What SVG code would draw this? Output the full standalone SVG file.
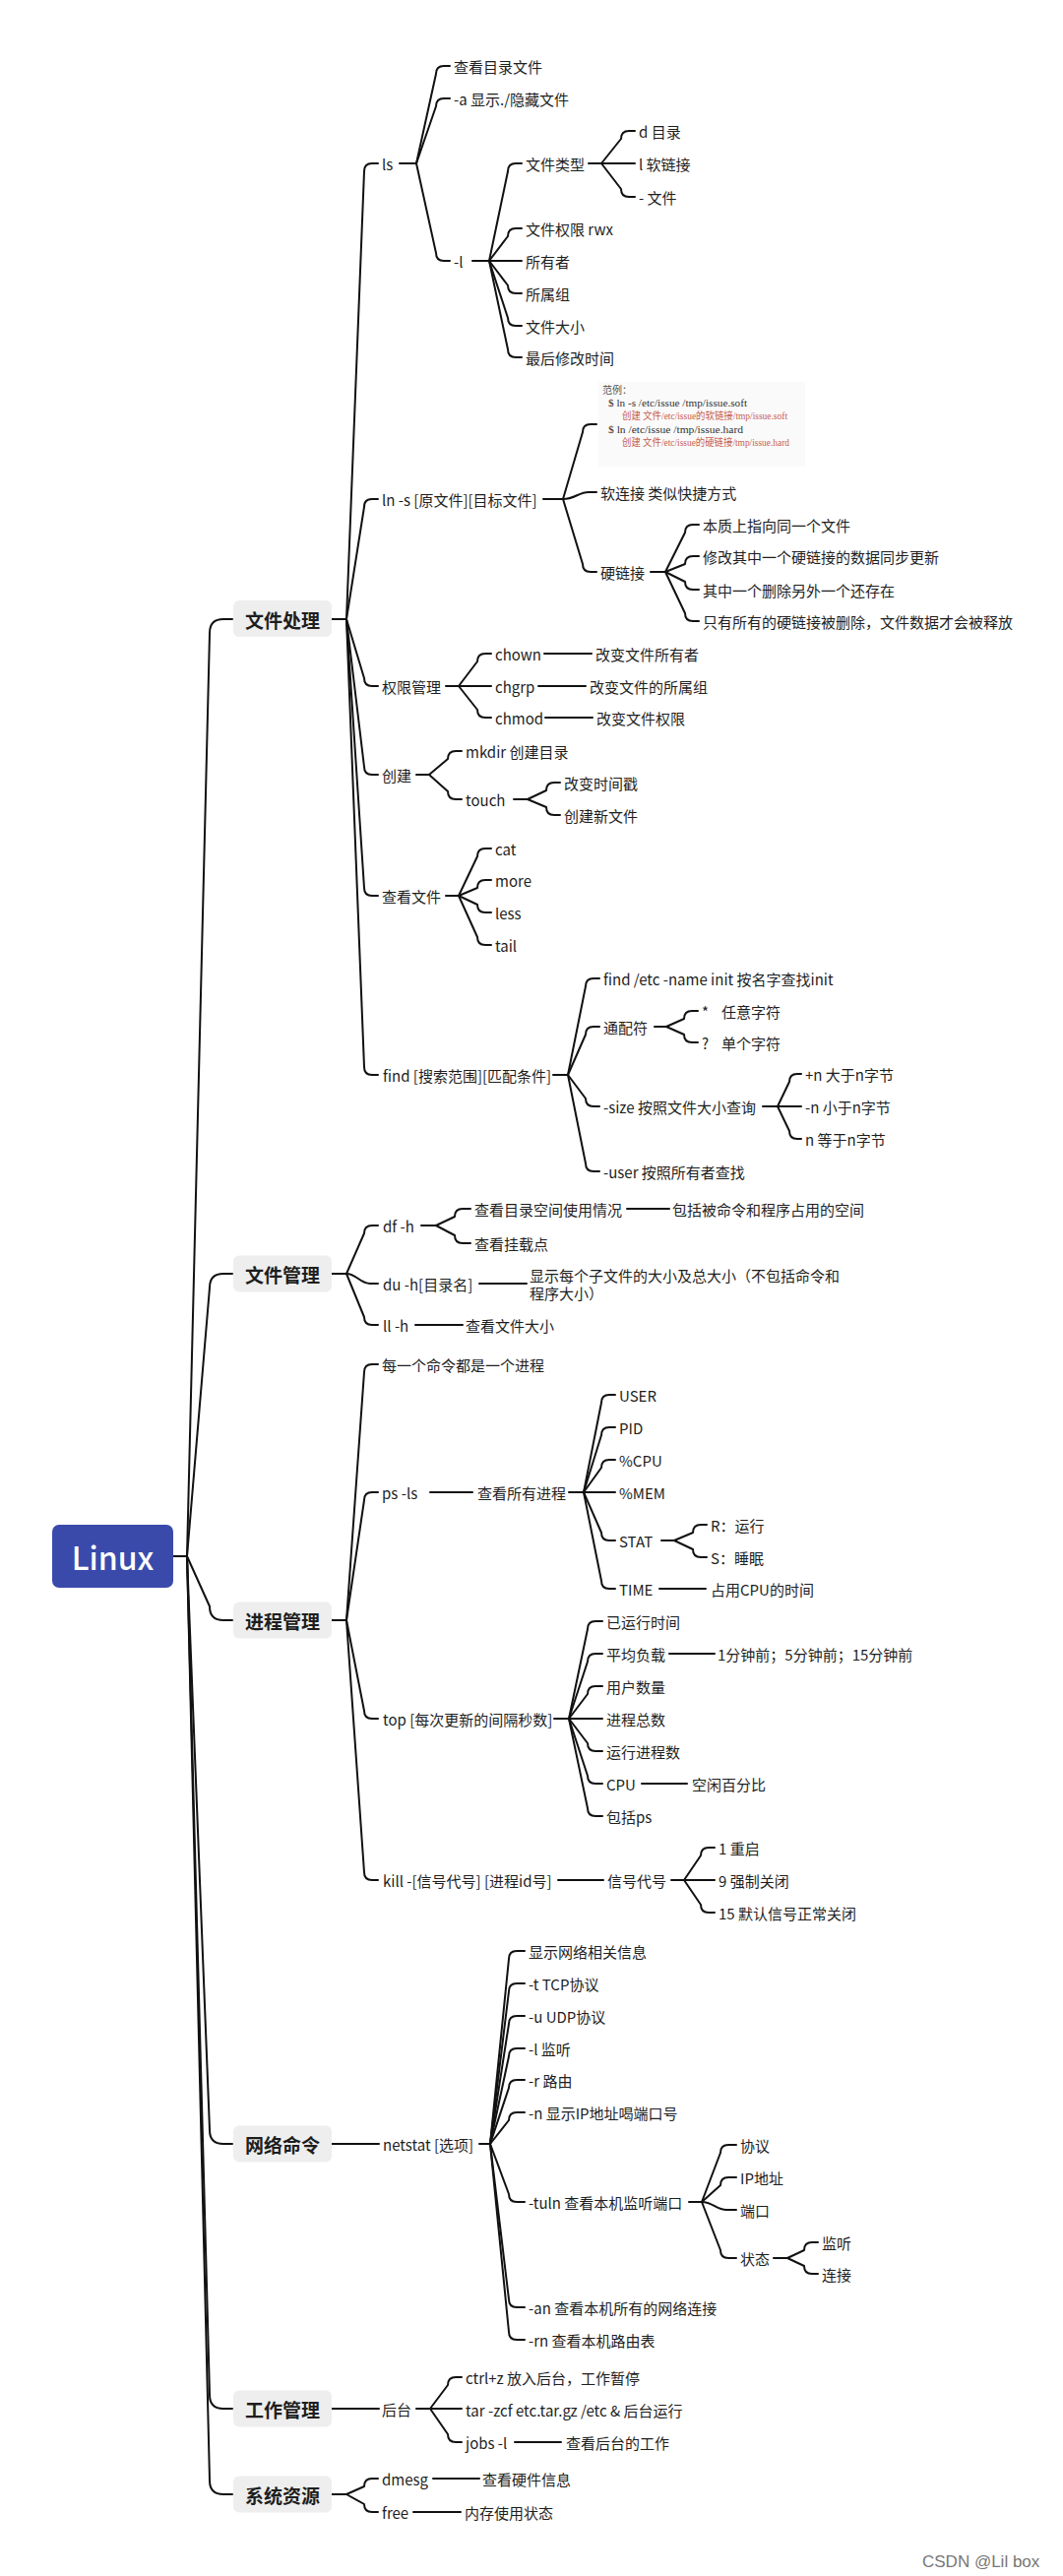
<svg xmlns="http://www.w3.org/2000/svg" width="1080" height="2617" viewBox="0 0 1080 2617">
<style>
.t{font-family:"Noto Sans CJK SC","Noto Sans",sans-serif;font-size:15px;fill:#1e1e1e;dominant-baseline:central}
.h{font-family:"Noto Sans CJK SC",sans-serif;font-size:19px;font-weight:bold;fill:#1e1e1e;dominant-baseline:central;text-anchor:middle}
.box{fill:#eeeeee}
.c path{fill:none;stroke:#111;stroke-width:2;stroke-linecap:round;stroke-linejoin:round}
.ex{font-family:"Liberation Serif","Noto Sans CJK SC",serif;font-size:10px;dominant-baseline:central}
</style>
<rect width="1080" height="2617" fill="#ffffff"/>
<g id="connectors" class="c">
<path d="M176,1581 H190"/>
<path d="M190,1581 L213,643 Q213,629 227,629 H236"/>
<path d="M190,1581 L213,1308 Q213,1294 227,1294 H236"/>
<path d="M190,1581 L213,1632 Q213,1646 227,1646 H236"/>
<path d="M190,1581 L213,2164 Q213,2178 227,2178 H236"/>
<path d="M190,1581 L213,2433 Q213,2447 227,2447 H236"/>
<path d="M190,1581 L213,2520 Q213,2534 227,2534 H236"/>
<path d="M337,629 H352"/>
<path d="M352,629 L370,174 Q370,166 378,166 H384"/>
<path d="M352,629 L370,515 Q370,507 378,507 H384"/>
<path d="M352,629 L370,689 Q370,697 378,697 H384"/>
<path d="M352,629 L370,779 Q370,787 378,787 H384"/>
<path d="M352,629 L370,902 Q370,910 378,910 H384"/>
<path d="M352,629 L370,1084 Q370,1092 378,1092 H384"/>
<path d="M406,166 H423"/>
<path d="M423,166 L443,75 Q443,67 451,67 H457"/>
<path d="M423,166 L443,108 Q443,100 451,100 H457"/>
<path d="M423,166 L443,257 Q443,265 451,265 H457"/>
<path d="M480,265 H497"/>
<path d="M497,265 L516,174 Q516,166 524,166 H530"/>
<path d="M497,265 L516,240 Q516,232 524,232 H530"/>
<path d="M497,265 H530"/>
<path d="M497,265 L516,290 Q516,298 524,298 H530"/>
<path d="M497,265 L516,323 Q516,331 524,331 H530"/>
<path d="M497,265 L516,355 Q516,363 524,363 H530"/>
<path d="M598,166 H611"/>
<path d="M611,166 L631,141 Q631,133 639,133 H645"/>
<path d="M611,166 H645"/>
<path d="M611,166 L631,192 Q631,200 639,200 H645"/>
<path d="M552,507 H572"/>
<path d="M572,507 L592,439 Q592,431 600,431 H606"/>
<path d="M572,507 C584,507 588,500 598,500 H606"/>
<path d="M572,507 L592,573 Q592,581 600,581 H606"/>
<path d="M661,581 H676"/>
<path d="M676,581 L696,541 Q696,533 704,533 H710"/>
<path d="M676,581 L696,573 Q696,565 704,565 H710"/>
<path d="M676,581 L696,591 Q696,599 704,599 H710"/>
<path d="M676,581 L696,623 Q696,631 704,631 H710"/>
<path d="M453,697 H466"/>
<path d="M466,697 L485,672 Q485,664 493,664 H499"/>
<path d="M466,697 H499"/>
<path d="M466,697 L485,721 Q485,729 493,729 H499"/>
<path d="M553,664 H601"/>
<path d="M547,697 H595"/>
<path d="M554,729 H602"/>
<path d="M423,787 H436"/>
<path d="M436,787 L455,771 Q455,763 463,763 H469"/>
<path d="M436,787 L455,804 Q455,812 463,812 H469"/>
<path d="M522,812 H536"/>
<path d="M536,812 L555,803 Q555,795 563,795 H569"/>
<path d="M536,812 L555,820 Q555,828 563,828 H569"/>
<path d="M453,910 H466"/>
<path d="M466,910 L485,870 Q485,862 493,862 H499"/>
<path d="M466,910 L485,902 Q485,894 493,894 H499"/>
<path d="M466,910 L485,919 Q485,927 493,927 H499"/>
<path d="M466,910 L485,952 Q485,960 493,960 H499"/>
<path d="M562,1092 H577"/>
<path d="M577,1092 L595,1002 Q595,994 603,994 H609"/>
<path d="M577,1092 L595,1051 Q595,1043 603,1043 H609"/>
<path d="M577,1092 L595,1116 Q595,1124 603,1124 H609"/>
<path d="M577,1092 L595,1182 Q595,1190 603,1190 H609"/>
<path d="M665,1043 H677"/>
<path d="M677,1043 L695,1035 Q695,1027 703,1027 H709"/>
<path d="M677,1043 L695,1051 Q695,1059 703,1059 H709"/>
<path d="M775,1124 H790"/>
<path d="M790,1124 L802,1099 Q802,1091 810,1091 H814"/>
<path d="M790,1124 H814"/>
<path d="M790,1124 L802,1149 Q802,1157 810,1157 H814"/>
<path d="M337,1294 H352"/>
<path d="M352,1294 L370,1253 Q370,1245 378,1245 H384"/>
<path d="M352,1294 C362,1294 366,1304 376,1304 H384"/>
<path d="M352,1294 L370,1338 Q370,1346 378,1346 H384"/>
<path d="M428,1245 H443"/>
<path d="M443,1245 L462,1236 Q462,1228 470,1228 H478"/>
<path d="M443,1245 L462,1255 Q462,1263 470,1263 H478"/>
<path d="M637,1228 H680"/>
<path d="M487,1304 H535"/>
<path d="M422,1346 H470"/>
<path d="M337,1646 H352"/>
<path d="M352,1646 L370,1394 Q370,1386 378,1386 H384"/>
<path d="M352,1646 L370,1524 Q370,1516 378,1516 H384"/>
<path d="M352,1646 L370,1738 Q370,1746 378,1746 H384"/>
<path d="M352,1646 L370,1902 Q370,1910 378,1910 H384"/>
<path d="M437,1516 H480"/>
<path d="M578,1516 H593"/>
<path d="M593,1516 L611,1425 Q611,1417 619,1417 H625"/>
<path d="M593,1516 L611,1458 Q611,1450 619,1450 H625"/>
<path d="M593,1516 L611,1491 Q611,1483 619,1483 H625"/>
<path d="M593,1516 H625"/>
<path d="M593,1516 L611,1557 Q611,1565 619,1565 H625"/>
<path d="M593,1516 L611,1606 Q611,1614 619,1614 H625"/>
<path d="M672,1565 H685"/>
<path d="M685,1565 L704,1557 Q704,1549 712,1549 H718"/>
<path d="M685,1565 L704,1574 Q704,1582 712,1582 H718"/>
<path d="M670,1614 H717"/>
<path d="M563,1746 H578"/>
<path d="M578,1746 L597,1655 Q597,1647 605,1647 H612"/>
<path d="M578,1746 L597,1688 Q597,1680 605,1680 H612"/>
<path d="M578,1746 L597,1721 Q597,1713 605,1713 H612"/>
<path d="M578,1746 H612"/>
<path d="M578,1746 L597,1771 Q597,1779 605,1779 H612"/>
<path d="M578,1746 L597,1804 Q597,1812 605,1812 H612"/>
<path d="M578,1746 L597,1837 Q597,1845 605,1845 H612"/>
<path d="M680,1680 H726"/>
<path d="M652,1812 H698"/>
<path d="M567,1910 H613"/>
<path d="M682,1910 H695"/>
<path d="M695,1910 L712,1885 Q712,1877 720,1877 H726"/>
<path d="M695,1910 H726"/>
<path d="M695,1910 L712,1935 Q712,1943 720,1943 H726"/>
<path d="M337,2178 H385"/>
<path d="M487,2178 H498"/>
<path d="M498,2178 L517,1990 Q517,1982 525,1982 H533"/>
<path d="M498,2178 L517,2023 Q517,2015 525,2015 H533"/>
<path d="M498,2178 L517,2056 Q517,2048 525,2048 H533"/>
<path d="M498,2178 L517,2089 Q517,2081 525,2081 H533"/>
<path d="M498,2178 L517,2121 Q517,2113 525,2113 H533"/>
<path d="M498,2178 L517,2154 Q517,2146 525,2146 H533"/>
<path d="M498,2178 L517,2229 Q517,2237 525,2237 H533"/>
<path d="M498,2178 L517,2336 Q517,2344 525,2344 H533"/>
<path d="M498,2178 L517,2369 Q517,2377 525,2377 H533"/>
<path d="M700,2237 H713"/>
<path d="M713,2237 L732,2187 Q732,2179 740,2179 H748"/>
<path d="M713,2237 L732,2220 Q732,2212 740,2212 H748"/>
<path d="M713,2237 C724,2237 728,2245 738,2245 H748"/>
<path d="M713,2237 L732,2286 Q732,2294 740,2294 H748"/>
<path d="M786,2294 H800"/>
<path d="M800,2294 L817,2286 Q817,2278 825,2278 H831"/>
<path d="M800,2294 L817,2302 Q817,2310 825,2310 H831"/>
<path d="M337,2447 H385"/>
<path d="M423,2447 H437"/>
<path d="M437,2447 L455,2423 Q455,2415 463,2415 H469"/>
<path d="M437,2447 H469"/>
<path d="M437,2447 L455,2473 Q455,2481 463,2481 H469"/>
<path d="M523,2481 H570"/>
<path d="M337,2534 H352"/>
<path d="M352,2534 L370,2526 Q370,2518 378,2518 H384"/>
<path d="M352,2534 L370,2544 Q370,2552 378,2552 H384"/>
<path d="M440,2518 H487"/>
<path d="M420,2552 H468"/>
</g>
<g id="n-root"><rect x="53" y="1549" width="123" height="64" rx="7" fill="#3a4aab"/><text x="114.5" y="1581" text-anchor="middle" font-family="'Noto Sans CJK SC',sans-serif" font-size="32" font-weight="500" fill="#ffffff" dominant-baseline="central">Linux</text></g>
<g id="n-file"><rect class="box" x="237" y="610" width="100" height="37" rx="6"/><text class="h" x="287" y="629">文件处理</text></g>
<g id="n-ls"><text class="t" x="388" y="166">ls</text></g>
<g id="n-ls-view"><text class="t" x="461" y="67">查看目录文件</text></g>
<g id="n-ls-a"><text class="t" x="461" y="100">-a 显示./隐藏文件</text></g>
<g id="n-ls-l"><text class="t" x="461" y="265">-l</text></g>
<g id="n-type"><text class="t" x="534" y="166">文件类型</text></g>
<g id="n-type-d"><text class="t" x="649" y="133">d 目录</text></g>
<g id="n-type-l"><text class="t" x="649" y="166">l 软链接</text></g>
<g id="n-type-f"><text class="t" x="649" y="200">- 文件</text></g>
<g id="n-perm"><text class="t" x="534" y="232">文件权限 rwx</text></g>
<g id="n-owner"><text class="t" x="534" y="265">所有者</text></g>
<g id="n-group"><text class="t" x="534" y="298">所属组</text></g>
<g id="n-fsize"><text class="t" x="534" y="331">文件大小</text></g>
<g id="n-mtime"><text class="t" x="534" y="363">最后修改时间</text></g>
<g id="n-ln"><text class="t" x="388" y="507">ln -s [原文件][目标文件]</text></g>
<g id="n-ln-ex"><rect x="608" y="388" width="210" height="86" fill="#fafafa"/>
<text class="ex" x="612" y="396" fill="#555">范例：</text>
<text class="ex" x="618" y="409" fill="#333" textLength="141" lengthAdjust="spacingAndGlyphs">$ ln -s /etc/issue /tmp/issue.soft</text>
<text class="ex" x="632" y="422" fill="#c8604f" textLength="168" lengthAdjust="spacingAndGlyphs">创建 文件/etc/issue的软链接/tmp/issue.soft</text>
<text class="ex" x="618" y="436" fill="#333" textLength="137" lengthAdjust="spacingAndGlyphs">$ ln /etc/issue /tmp/issue.hard</text>
<text class="ex" x="632" y="449" fill="#c8604f" textLength="170" lengthAdjust="spacingAndGlyphs">创建 文件/etc/issue的硬链接/tmp/issue.hard</text></g>
<g id="n-ln-soft"><text class="t" x="610" y="500">软连接 类似快捷方式</text></g>
<g id="n-ln-hard"><text class="t" x="610" y="581">硬链接</text></g>
<g id="n-hard-1"><text class="t" x="714" y="533">本质上指向同一个文件</text></g>
<g id="n-hard-2"><text class="t" x="714" y="565">修改其中一个硬链接的数据同步更新</text></g>
<g id="n-hard-3"><text class="t" x="714" y="599">其中一个删除另外一个还存在</text></g>
<g id="n-hard-4"><text class="t" x="714" y="631">只有所有的硬链接被删除，文件数据才会被释放</text></g>
<g id="n-auth"><text class="t" x="388" y="697">权限管理</text></g>
<g id="n-chown"><text class="t" x="503" y="664">chown</text></g>
<g id="n-chgrp"><text class="t" x="503" y="697">chgrp</text></g>
<g id="n-chmod"><text class="t" x="503" y="729">chmod</text></g>
<g id="n-chown-d"><text class="t" x="605" y="664">改变文件所有者</text></g>
<g id="n-chgrp-d"><text class="t" x="599" y="697">改变文件的所属组</text></g>
<g id="n-chmod-d"><text class="t" x="606" y="729">改变文件权限</text></g>
<g id="n-create"><text class="t" x="388" y="787">创建</text></g>
<g id="n-mkdir"><text class="t" x="473" y="763">mkdir 创建目录</text></g>
<g id="n-touch"><text class="t" x="473" y="812">touch</text></g>
<g id="n-touch-1"><text class="t" x="573" y="795">改变时间戳</text></g>
<g id="n-touch-2"><text class="t" x="573" y="828">创建新文件</text></g>
<g id="n-view"><text class="t" x="388" y="910">查看文件</text></g>
<g id="n-cat"><text class="t" x="503" y="862">cat</text></g>
<g id="n-more"><text class="t" x="503" y="894">more</text></g>
<g id="n-less"><text class="t" x="503" y="927">less</text></g>
<g id="n-tail"><text class="t" x="503" y="960">tail</text></g>
<g id="n-find"><text class="t" x="389" y="1092">find [搜索范围][匹配条件]</text></g>
<g id="n-find-name"><text class="t" x="613" y="994">find /etc -name init 按名字查找init</text></g>
<g id="n-wild"><text class="t" x="613" y="1043">通配符</text></g>
<g id="n-wild-1"><text class="t" x="713" y="1027">*<tspan x="733">任意字符</tspan></text></g>
<g id="n-wild-2"><text class="t" x="713" y="1059">?<tspan x="733">单个字符</tspan></text></g>
<g id="n-fsz"><text class="t" x="613" y="1124">-size 按照文件大小查询</text></g>
<g id="n-fsz-1"><text class="t" x="818" y="1091">+n 大于n字节</text></g>
<g id="n-fsz-2"><text class="t" x="818" y="1124">-n 小于n字节</text></g>
<g id="n-fsz-3"><text class="t" x="818" y="1157">n 等于n字节</text></g>
<g id="n-fuser"><text class="t" x="613" y="1190">-user 按照所有者查找</text></g>
<g id="n-fm"><rect class="box" x="237" y="1275.5" width="100" height="37" rx="6"/><text class="h" x="287" y="1294">文件管理</text></g>
<g id="n-df"><text class="t" x="389" y="1245">df -h</text></g>
<g id="n-df-1"><text class="t" x="482" y="1228">查看目录空间使用情况</text></g>
<g id="n-df-1a"><text class="t" x="683" y="1228">包括被命令和程序占用的空间</text></g>
<g id="n-df-2"><text class="t" x="482" y="1263">查看挂载点</text></g>
<g id="n-du"><text class="t" x="389" y="1304">du -h[目录名]</text></g>
<g id="n-du-1"><text class="t" x="538" y="1295">显示每个子文件的大小及总大小（不包括命令和</text><text class="t" x="538" y="1313">程序大小）</text></g>
<g id="n-llh"><text class="t" x="389" y="1346">ll -h</text></g>
<g id="n-llh-1"><text class="t" x="473" y="1346">查看文件大小</text></g>
<g id="n-proc"><rect class="box" x="237" y="1627.5" width="100" height="37" rx="6"/><text class="h" x="287" y="1646">进程管理</text></g>
<g id="n-p1"><text class="t" x="388" y="1386">每一个命令都是一个进程</text></g>
<g id="n-ps"><text class="t" x="388" y="1516">ps -ls</text></g>
<g id="n-ps-1"><text class="t" x="485" y="1516">查看所有进程</text></g>
<g id="n-user"><text class="t" x="629" y="1417">USER</text></g>
<g id="n-pid"><text class="t" x="629" y="1450">PID</text></g>
<g id="n-cpu"><text class="t" x="629" y="1483">%CPU</text></g>
<g id="n-mem"><text class="t" x="629" y="1516">%MEM</text></g>
<g id="n-stat"><text class="t" x="629" y="1565">STAT</text></g>
<g id="n-stat-r"><text class="t" x="722" y="1549">R：运行</text></g>
<g id="n-stat-s"><text class="t" x="722" y="1582">S：睡眠</text></g>
<g id="n-time"><text class="t" x="629" y="1614">TIME</text></g>
<g id="n-time-1"><text class="t" x="722" y="1614">占用CPU的时间</text></g>
<g id="n-top"><text class="t" x="389" y="1746">top [每次更新的间隔秒数]</text></g>
<g id="n-top-1"><text class="t" x="616" y="1647">已运行时间</text></g>
<g id="n-top-2"><text class="t" x="616" y="1680">平均负载</text></g>
<g id="n-top-2a"><text class="t" x="729" y="1680">1分钟前；5分钟前；15分钟前</text></g>
<g id="n-top-3"><text class="t" x="616" y="1713">用户数量</text></g>
<g id="n-top-4"><text class="t" x="616" y="1746">进程总数</text></g>
<g id="n-top-5"><text class="t" x="616" y="1779">运行进程数</text></g>
<g id="n-top-6"><text class="t" x="616" y="1812">CPU</text></g>
<g id="n-top-6a"><text class="t" x="703" y="1812">空闲百分比</text></g>
<g id="n-top-7"><text class="t" x="616" y="1845">包括ps</text></g>
<g id="n-kill"><text class="t" x="389" y="1910">kill -[信号代号] [进程id号]</text></g>
<g id="n-sig"><text class="t" x="617" y="1910">信号代号</text></g>
<g id="n-sig-1"><text class="t" x="730" y="1877">1 重启</text></g>
<g id="n-sig-9"><text class="t" x="730" y="1910">9 强制关闭</text></g>
<g id="n-sig-15"><text class="t" x="730" y="1943">15 默认信号正常关闭</text></g>
<g id="n-net"><rect class="box" x="237" y="2159.5" width="100" height="37" rx="6"/><text class="h" x="287" y="2178">网络命令</text></g>
<g id="n-netstat"><text class="t" x="389" y="2178">netstat [选项]</text></g>
<g id="n-ns-1"><text class="t" x="537" y="1982">显示网络相关信息</text></g>
<g id="n-ns-t"><text class="t" x="537" y="2015">-t TCP协议</text></g>
<g id="n-ns-u"><text class="t" x="537" y="2048">-u UDP协议</text></g>
<g id="n-ns-l"><text class="t" x="537" y="2081">-l 监听</text></g>
<g id="n-ns-r"><text class="t" x="537" y="2113">-r 路由</text></g>
<g id="n-ns-n"><text class="t" x="537" y="2146">-n 显示IP地址喝端口号</text></g>
<g id="n-ns-tuln"><text class="t" x="537" y="2237">-tuln 查看本机监听端口</text></g>
<g id="n-tuln-1"><text class="t" x="752" y="2179">协议</text></g>
<g id="n-tuln-2"><text class="t" x="752" y="2212">IP地址</text></g>
<g id="n-tuln-3"><text class="t" x="752" y="2245">端口</text></g>
<g id="n-tuln-4"><text class="t" x="752" y="2294">状态</text></g>
<g id="n-st-1"><text class="t" x="835" y="2278">监听</text></g>
<g id="n-st-2"><text class="t" x="835" y="2310">连接</text></g>
<g id="n-ns-an"><text class="t" x="537" y="2344">-an 查看本机所有的网络连接</text></g>
<g id="n-ns-rn"><text class="t" x="537" y="2377">-rn 查看本机路由表</text></g>
<g id="n-job"><rect class="box" x="237" y="2428.5" width="100" height="37" rx="6"/><text class="h" x="287" y="2447">工作管理</text></g>
<g id="n-bg"><text class="t" x="388" y="2447">后台</text></g>
<g id="n-bg-1"><text class="t" x="473" y="2415">ctrl+z 放入后台，工作暂停</text></g>
<g id="n-bg-2"><text class="t" x="473" y="2448">tar -zcf etc.tar.gz /etc &amp; 后台运行</text></g>
<g id="n-bg-3"><text class="t" x="473" y="2481">jobs -l</text></g>
<g id="n-bg-3a"><text class="t" x="575" y="2481">查看后台的工作</text></g>
<g id="n-sys"><rect class="box" x="237" y="2515.5" width="100" height="37" rx="6"/><text class="h" x="287" y="2534">系统资源</text></g>
<g id="n-dmesg"><text class="t" x="388" y="2518">dmesg</text></g>
<g id="n-dmesg-1"><text class="t" x="490" y="2518">查看硬件信息</text></g>
<g id="n-free"><text class="t" x="388" y="2552">free</text></g>
<g id="n-free-1"><text class="t" x="472" y="2552">内存使用状态</text></g>
<text x="937" y="2608" font-family="'Liberation Sans',Arial,sans-serif" font-size="17" fill="#777">CSDN @Lil box</text>
</svg>
